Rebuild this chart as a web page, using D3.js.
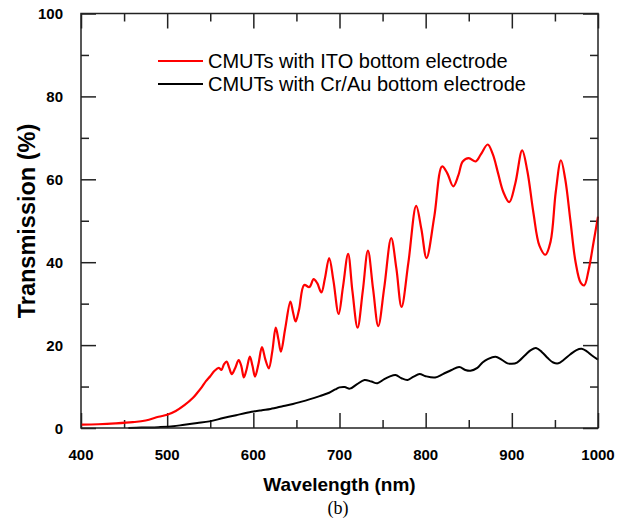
<!DOCTYPE html>
<html>
<head>
    <title>Transmission</title>
    <script src="https://d3js.org/d3.v7.min.js"></script>
    <style>
        body { margin: 0; background: #fff; }
        .tick-label { font-family: 'Liberation Sans', Arial, sans-serif; font-weight: bold; font-size: 15px; }
        .axis-title { font-family: 'Liberation Sans', Arial, sans-serif; font-weight: bold; font-size: 19px; }
        .legend-text { font-family: 'Liberation Sans', Arial, sans-serif; font-size: 20px; }
        .caption { font-family: 'Liberation Serif', 'Times New Roman', serif; font-size: 18px; }
    </style>
</head>
<body>
<div id="chart"></div>
<script>
    // wavelength (nm) / transmission (%)
    const itoWavelength = [400, 420, 440, 460, 475, 490, 500, 510, 520, 530, 535, 540, 545, 550, 555, 560,
        563, 566, 569, 572, 575, 579, 583, 586, 589, 592, 596, 599, 602, 606, 610, 614, 618, 622, 626, 629,
        632, 637, 643, 646, 649, 653, 659, 665, 670, 674, 679, 683, 688, 693, 699, 704, 710, 715, 721, 727,
        733, 739, 745, 752, 760, 766, 772, 780, 789, 795, 801, 810, 819, 825, 832, 838, 843, 850, 858, 864,
        872, 878, 884, 890, 897, 904, 912, 918, 925, 932, 939, 945, 951, 957, 962, 968, 974, 980, 984, 989,
        995, 1000];
    const itoTransmission = [0.8, 0.9, 1.1, 1.4, 1.8, 2.7, 3.2, 4.1, 5.5, 7.3, 8.5, 9.8, 11.3, 12.5, 13.8, 14.5,
        14.0, 15.4, 16.0, 14.5, 13.0, 14.5, 16.4, 15.0, 12.2, 14.0, 17.2, 15.0, 12.4, 15.5, 19.5, 16.5, 14.4, 18.5, 24.2, 21.5,
        18.4, 24.0, 30.5, 28.0, 25.7, 28.5, 34.5, 34.0, 35.9, 35.0, 32.7, 36.0, 41.0, 35.5, 27.5, 34.0, 42.0, 33.0, 24.2, 33.0,
        42.8, 33.5, 24.6, 34.0, 45.8, 38.5, 29.2, 40.0, 53.6, 48.0, 41.0, 51.0, 63.1, 61.5, 58.3, 61.0, 64.3, 65.1, 64.3, 66.0,
        68.4, 66.0, 61.5, 57.0, 54.5, 59.0, 67.0, 62.0, 52.0, 44.0, 41.8, 45.0, 57.0, 64.6, 60.0, 50.0, 40.0, 35.0, 34.4, 38.0,
        45.0, 51.0];

    const crauWavelength = [455, 470, 490, 507, 520, 535, 549, 565, 580, 598, 610, 620, 635, 646, 655, 665,
        677, 688, 695, 700, 706, 712, 720, 729, 737, 744, 752, 758, 765, 772, 779, 786, 793, 800, 811, 820,
        830, 839, 846, 852, 860, 866, 872, 881, 888, 895, 900, 906, 915, 922, 928, 935, 942, 948, 954, 960,
        968, 975, 981, 987, 993, 1000];
    const crauTransmission = [0, 0.1, 0.2, 0.4, 0.8, 1.2, 1.6, 2.4, 3.1, 3.9, 4.3, 4.6, 5.3, 5.8, 6.3, 6.9,
        7.7, 8.5, 9.3, 9.8, 9.9, 9.5, 10.5, 11.6, 11.2, 10.8, 11.8, 12.4, 12.8, 12.0, 11.6, 12.4, 13.0, 12.5, 12.2, 13.0,
        14.0, 14.7, 14.0, 13.8, 14.5, 15.8, 16.6, 17.2, 16.5, 15.6, 15.5, 15.8, 17.5, 18.8, 19.3, 18.3, 16.8, 15.8, 15.6, 16.4,
        17.8, 18.8, 19.1, 18.5, 17.5, 16.5];

    const xMajorTicks = [400, 500, 600, 700, 800, 900, 1000];
    const xMinorTicks = [450, 550, 650, 750, 850, 950];
    const yMajorTicks = [0, 20, 40, 60, 80, 100];
    const yMinorTicks = [10, 30, 50, 70, 90];

    const legendLabels = ['CMUTs with ITO bottom electrode', 'CMUTs with Cr/Au bottom electrode'];
    const seriesColors = ['#ff0000', '#000000'];

    const width = 628, height = 519;
    const plotLeft = 81, plotRight = 598, plotTop = 13.5, plotBottom = 428;

    const svg = d3.select('#chart').append('svg')
        .attr('width', width)
        .attr('height', height);

    const x = d3.scaleLinear().domain([400, 1000]).range([plotLeft, plotRight]);
    const y = d3.scaleLinear().domain([0, 100]).range([plotBottom, plotTop]);

    // ticks on all four sides, pointing inwards
    function ticks(axis, tr, values, size) {
        const g = svg.append('g')
            .attr('transform', tr)
            .call(axis.tickValues(values).tickSize(-size).tickFormat(''));
        g.select('.domain').remove();
        g.selectAll('line').attr('stroke', '#222').attr('stroke-width', 1.5);
    }
    ticks(d3.axisBottom(x), `translate(0,${plotBottom})`, xMajorTicks, 15);
    ticks(d3.axisBottom(x), `translate(0,${plotBottom})`, xMinorTicks, 8);
    ticks(d3.axisTop(x), `translate(0,${plotTop})`, xMajorTicks, 15);
    ticks(d3.axisTop(x), `translate(0,${plotTop})`, xMinorTicks, 8);
    ticks(d3.axisLeft(y), `translate(${plotLeft},0)`, yMajorTicks, 15);
    ticks(d3.axisLeft(y), `translate(${plotLeft},0)`, yMinorTicks, 8);
    ticks(d3.axisRight(y), `translate(${plotRight},0)`, yMajorTicks, 15);
    ticks(d3.axisRight(y), `translate(${plotRight},0)`, yMinorTicks, 8);

    // tick labels
    svg.append('g').selectAll('text')
        .data(xMajorTicks)
        .join('text')
        .attr('class', 'tick-label')
        .attr('x', d => x(d))
        .attr('y', 460)
        .attr('text-anchor', 'middle')
        .text(d => d);

    svg.append('g').selectAll('text')
        .data(yMajorTicks)
        .join('text')
        .attr('class', 'tick-label')
        .attr('x', 63)
        .attr('y', d => y(d) + 5.5)
        .attr('text-anchor', 'end')
        .text(d => d);

    // curves
    const line = d3.line()
        .x(d => x(d[0]))
        .y(d => y(d[1]))
        .curve(d3.curveCatmullRom.alpha(0.5));

    svg.append('path')
        .datum(d3.zip(crauWavelength, crauTransmission))
        .attr('fill', 'none')
        .attr('stroke', seriesColors[1])
        .attr('stroke-width', 2)
        .attr('d', line);

    svg.append('path')
        .datum(d3.zip(itoWavelength, itoTransmission))
        .attr('fill', 'none')
        .attr('stroke', seriesColors[0])
        .attr('stroke-width', 2.2)
        .attr('d', line);

    // frame
    svg.append('rect')
        .attr('x', plotLeft)
        .attr('y', plotTop)
        .attr('width', plotRight - plotLeft)
        .attr('height', plotBottom - plotTop)
        .attr('fill', 'none')
        .attr('stroke', '#222')
        .attr('stroke-width', 1.5);

    // legend
    const legend = svg.append('g');
    legendLabels.forEach((label, i) => {
        const ly = 61 + i * 23;
        legend.append('line')
            .attr('x1', 158).attr('x2', 203)
            .attr('y1', ly).attr('y2', ly)
            .attr('stroke', seriesColors[i])
            .attr('stroke-width', 2.2);
        legend.append('text')
            .attr('class', 'legend-text')
            .attr('x', 208)
            .attr('y', ly + 6.5)
            .text(label);
    });

    // axis titles
    svg.append('text')
        .attr('class', 'axis-title')
        .attr('x', (plotLeft + plotRight) / 2)
        .attr('y', 491)
        .attr('text-anchor', 'middle')
        .text('Wavelength (nm)');

    svg.append('text')
        .attr('class', 'axis-title')
        .style('font-size', '23.5px')
        .attr('transform', 'translate(35,221) rotate(-90)')
        .attr('text-anchor', 'middle')
        .text('Transmission (%)');

    svg.append('text')
        .attr('class', 'caption')
        .attr('x', 338)
        .attr('y', 514)
        .attr('text-anchor', 'middle')
        .text('(b)');
</script>
</body>
</html>
